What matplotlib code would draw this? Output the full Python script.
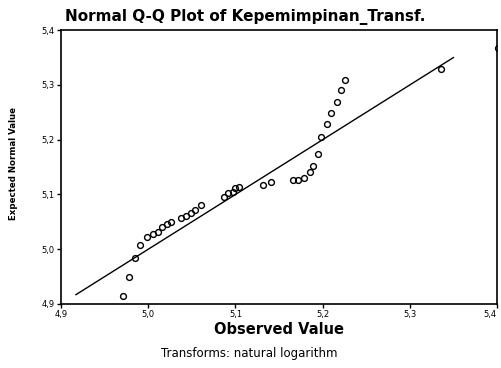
import matplotlib
matplotlib.use("Agg")
import matplotlib.pyplot as plt
from matplotlib.ticker import FuncFormatter

# Observed vs expected normal values
observed = [4.971, 4.978, 4.985, 4.991, 4.999, 5.005, 5.011, 5.016, 5.022, 5.026,
            5.037, 5.043, 5.049, 5.054, 5.060, 5.087, 5.092, 5.097, 5.100, 5.104,
            5.132, 5.141, 5.166, 5.172, 5.179, 5.185, 5.189, 5.195, 5.198, 5.205,
            5.210, 5.217, 5.221, 5.226, 5.336, 5.401]
expected = [4.915, 4.949, 4.984, 5.008, 5.022, 5.028, 5.031, 5.040, 5.046, 5.050,
            5.057, 5.061, 5.066, 5.072, 5.081, 5.095, 5.103, 5.104, 5.112, 5.114,
            5.117, 5.123, 5.126, 5.126, 5.130, 5.141, 5.152, 5.174, 5.205, 5.229,
            5.249, 5.269, 5.291, 5.309, 5.329, 5.367]
ref_line = [4.917, 5.350]
ticks = [4.9, 5.0, 5.1, 5.2, 5.3, 5.4]

title = "Normal Q-Q Plot of Kepemimpinan_Transf."
xlabel = "Observed Value"
ylabel = "Expected Normal Value"
footnote = "Transforms: natural logarithm"

fig = plt.figure(figsize=(5.01, 3.68), dpi=100)
ax = fig.add_axes([0.122, 0.174, 0.870, 0.744])

ax.plot(ref_line, ref_line, color="black", lw=1.0)
ax.plot(observed, expected, linestyle="none", marker="o", markersize=4.2,
        markerfacecolor="none", markeredgecolor="black", markeredgewidth=1.0)

ax.set_xlim(4.9, 5.4)
ax.set_ylim(4.9, 5.4)
ax.set_xticks(ticks)
ax.set_yticks(ticks)
fmt = FuncFormatter(lambda v, p: f"{v:.1f}".replace(".", ","))
ax.xaxis.set_major_formatter(fmt)
ax.yaxis.set_major_formatter(fmt)
ax.tick_params(direction="out", length=3, width=1, labelsize=6, pad=1.5)
fig.canvas.draw()
ax.get_xticklabels()[-1].set_ha("right")
for s in ax.spines.values():
    s.set_linewidth(1.2)
    s.set_color("black")

fig.text(0.49, 0.955, title, ha="center", va="center", fontsize=11, fontweight="bold")
fig.text(0.557, 0.105, xlabel, ha="center", va="center", fontsize=10.5, fontweight="bold")
fig.text(0.026, 0.555, ylabel, ha="center", va="center", fontsize=6.2,
         fontweight="bold", rotation=90)
fig.text(0.497, 0.040, footnote, ha="center", va="center", fontsize=8.5)

fig.savefig("out.png", dpi=100)
